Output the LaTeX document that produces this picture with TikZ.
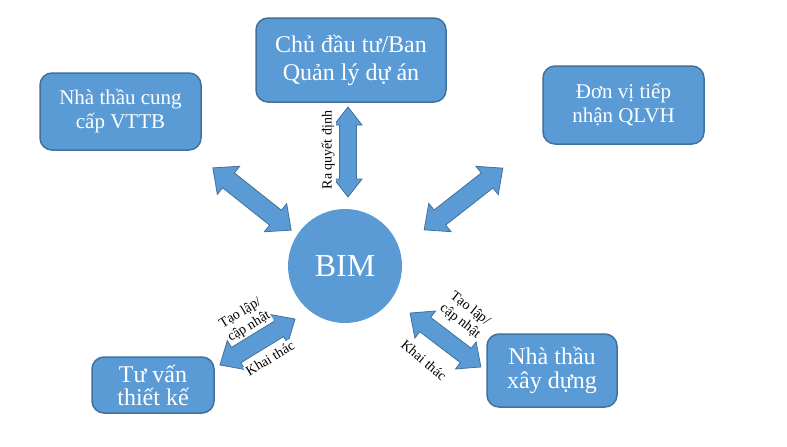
\documentclass[tikz,border=0pt]{standalone}
\usepackage{fontspec}
\setmainfont{Liberation Serif}
\definecolor{boxblue}{HTML}{5B9BD5}
\definecolor{edgeblue}{HTML}{41719C}
\tikzset{
  box/.style={draw=edgeblue, line width=1.5pt, fill=boxblue, rounded corners=12pt,
    text=white, align=center, inner sep=0pt},
  arrowshape/.style={draw=edgeblue, line width=0.8pt, fill=boxblue, line join=miter},
  lbl/.style={fill=white, inner sep=1pt, font=\fontsize{14}{16}\selectfont},
}
% #1 centre, #2 angle, #3 length, #4 head width, #5 shaft width, #6 head length
\newcommand\blockarrow[6]{%
\begin{scope}[shift={(#1)}, rotate=#2]
\filldraw[arrowshape] ({-#3/2},0) -- ({-#3/2+#6},{#4/2}) -- ({-#3/2+#6},{#5/2})
  -- ({#3/2-#6},{#5/2}) -- ({#3/2-#6},{#4/2}) -- ({#3/2},0) -- ({#3/2-#6},{-#4/2})
  -- ({#3/2-#6},{-#5/2}) -- ({-#3/2+#6},{-#5/2}) -- ({-#3/2+#6},{-#4/2}) -- cycle;
\end{scope}}
\begin{document}
\begin{tikzpicture}[x=1pt,y=-1pt]
\useasboundingbox[fill=white] (0,0) rectangle (787,447);

% boxes
\node[box, minimum width=190pt, minimum height=84pt, font=\fontsize{24}{28}\selectfont]
  (cdt) at (351,60) {Chủ đầu tư/Ban\\Quản lý dự án};
\node[box, minimum width=161pt, minimum height=77pt, font=\fontsize{21}{24}\selectfont]
  (ntcc) at (120.5,111.5) {Nhà thầu cung\\cấp VTTB};
\node[box, minimum width=161pt, minimum height=78pt, font=\fontsize{21}{24}\selectfont]
  (dv) at (623.5,105) {Đơn vị tiếp\\nhận QLVH};
\node[box, minimum width=122pt, minimum height=56pt, font=\fontsize{24}{23}\selectfont]
  (tvtk) at (153,385) {Tư vấn\\thiết kế};
\node[box, minimum width=130pt, minimum height=73pt, font=\fontsize{24}{24}\selectfont]
  (ntxd) at (552,370.5) {Nhà thầu\\xây dựng};
\node[circle, fill=boxblue, minimum size=114pt, inner sep=0pt, text=white,
  font=\fontsize{32}{36}\selectfont] (bim) at (345,266) {BIM};

% block arrows
\blockarrow{348,152}{90}{90}{28}{17}{18}
\blockarrow{252,199}{-38.5}{100}{36}{19}{20}
\blockarrow{463.5,199}{38.1}{100}{36}{19}{20}
\blockarrow{257.5,342}{31.5}{88}{34}{18}{19}
\blockarrow{445.5,340}{-37.3}{89}{34}{18}{19}

% labels
\node[lbl, rotate=90] (lq) at (328,150) {Ra quyết định};
\node[lbl, rotate=31.5, align=left] (ltl) at (245,320) {Tạo lập/\\cập nhật};
\node[lbl, rotate=31.5] (ltk) at (270,358) {Khai thác};
\node[lbl, rotate=-38, align=center] (lrl) at (465,315) {Tạo lập/\\cập nhật};
\node[lbl, rotate=-40] (lrk) at (424,360) {Khai thác};
\end{tikzpicture}
\end{document}
